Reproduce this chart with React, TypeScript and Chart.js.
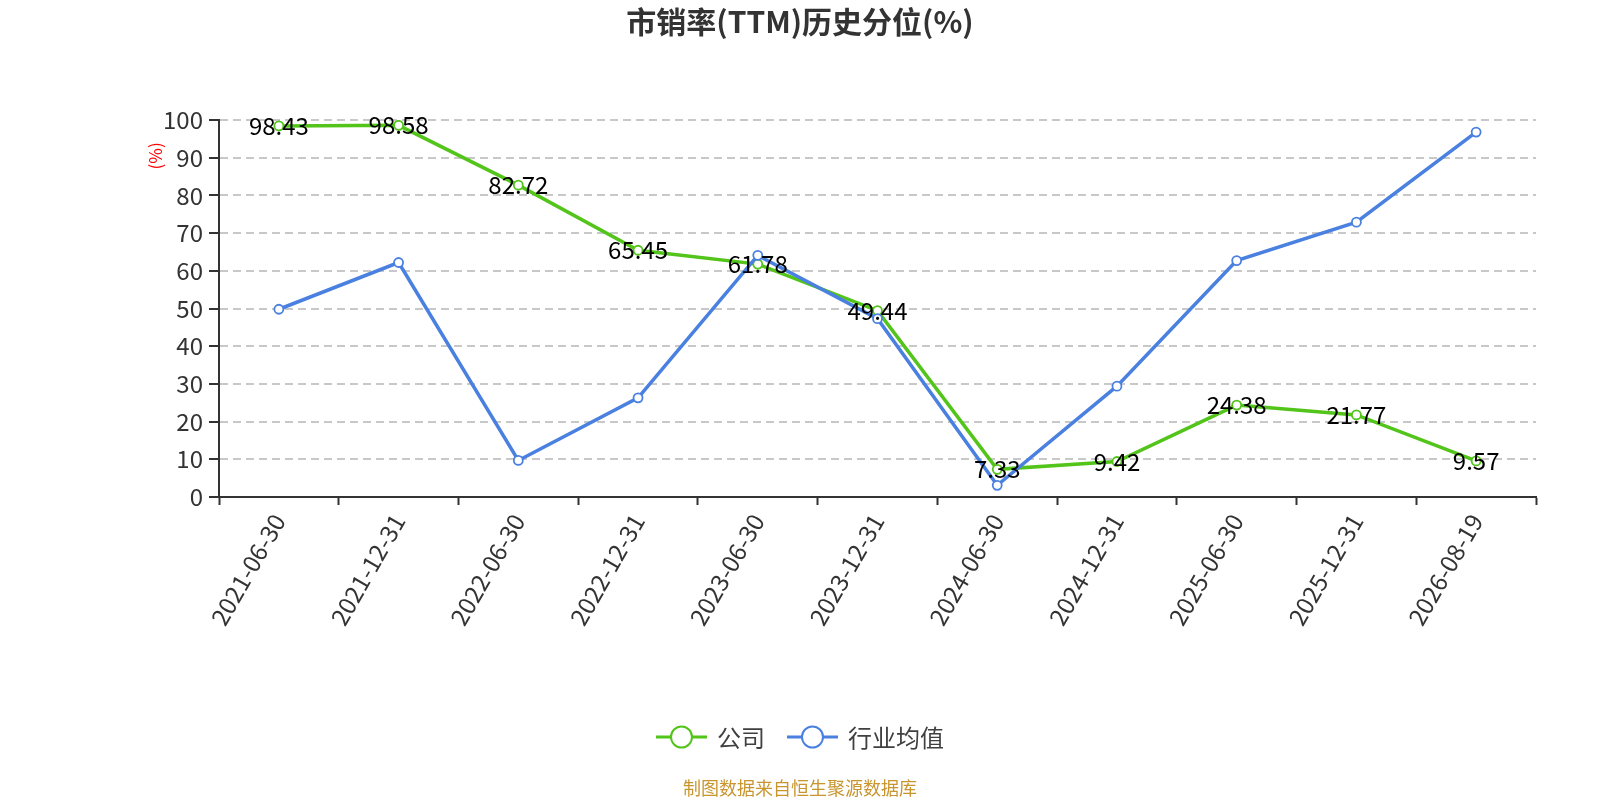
import React, { useEffect, useRef } from "react";
import { Chart, registerables } from "chart.js";

Chart.register(...registerables);

const categories = [
  "2021-06-30", "2021-12-31", "2022-06-30", "2022-12-31", "2023-06-30", "2023-12-31",
  "2024-06-30", "2024-12-31", "2025-06-30", "2025-12-31", "2026-08-19",
];
const companyValues = [98.43, 98.58, 82.72, 65.45, 61.78, 49.44, 7.33, 9.42, 24.38, 21.77, 9.57];
const industryValues = [49.8, 62.2, 9.7, 26.3, 64.1, 47.3, 3.1, 29.4, 62.7, 72.9, 96.8];
const seriesNames = ["公司", "行业均值"];
const titleText = "市销率(TTM)历史分位(%)";
const footerText = "制图数据来自恒生聚源数据库";
const yAxisName = "(%)";

const GREEN = "#52c41a";
const BLUE = "#4a80e0";
const FONT = "'Noto Sans CJK SC', 'Noto Sans', sans-serif";
const CX = 800;

const overlayPlugin = {
  id: "overlay",
  afterDatasetsDraw(chart: any) {
    const ctx = chart.ctx;
    const meta = chart.getDatasetMeta(0);
    ctx.save();
    ctx.font = `24px ${FONT}`;
    ctx.fillStyle = "#000";
    ctx.textAlign = "center";
    ctx.textBaseline = "middle";
    meta.data.forEach((pt: any, i: number) => {
      ctx.fillText(String(companyValues[i]), pt.x, pt.y);
    });
    ctx.restore();
  },
  afterDraw(chart: any) {
    const ctx = chart.ctx;
    const area = chart.chartArea;
    const yScale = chart.scales.y;
    ctx.save();
    // title
    ctx.font = `bold 30px ${FONT}`;
    ctx.fillStyle = "#333";
    ctx.textAlign = "center";
    ctx.textBaseline = "middle";
    ctx.fillText(titleText, CX, 22);
    // y axis name
    ctx.save();
    ctx.translate(area.left - 63, yScale.getPixelForValue(90.5));
    ctx.rotate(-Math.PI / 2);
    ctx.font = `17px ${FONT}`;
    ctx.fillStyle = "red";
    ctx.textAlign = "center";
    ctx.textBaseline = "middle";
    ctx.fillText(yAxisName, 0, 0);
    ctx.restore();
    // legend
    const colors = [GREEN, BLUE];
    ctx.font = `24px ${FONT}`;
    const gap = 22;
    const iconW = 51;
    const textGap = 10;
    const items = seriesNames.map((n) => ({ n, w: iconW + textGap + ctx.measureText(n).width }));
    const total = items.reduce((s, it) => s + it.w, 0) + gap * (items.length - 1);
    let x = CX - total / 2;
    const ly = 737;
    items.forEach((it, i) => {
      ctx.strokeStyle = colors[i];
      ctx.lineWidth = 3;
      ctx.beginPath();
      ctx.moveTo(x, ly);
      ctx.lineTo(x + iconW, ly);
      ctx.stroke();
      ctx.beginPath();
      ctx.arc(x + iconW / 2, ly, 10.5, 0, Math.PI * 2);
      ctx.fillStyle = "#fff";
      ctx.fill();
      ctx.lineWidth = 2;
      ctx.stroke();
      ctx.fillStyle = "#404040";
      ctx.textAlign = "left";
      ctx.textBaseline = "middle";
      ctx.fillText(it.n, x + iconW + textGap, ly + 1);
      x += it.w + gap;
    });
    // footer
    ctx.font = `18px ${FONT}`;
    ctx.fillStyle = "#c8952f";
    ctx.textAlign = "center";
    ctx.textBaseline = "middle";
    ctx.fillText(footerText, CX, 788);
    ctx.restore();
  },
};

export default function App() {
  const ref = useRef<HTMLCanvasElement>(null);
  useEffect(() => {
    document.body.style.margin = "0";
    const Y_W = 70;
    const X_H = 150;
    const chart = new Chart(ref.current!, {
      type: "line",
      data: {
        labels: categories,
        datasets: [
          {
            label: seriesNames[0],
            data: companyValues,
            borderColor: GREEN,
            backgroundColor: "#fff",
            borderWidth: 3.5,
            pointRadius: 4.5,
            pointBorderWidth: 1.8,
            pointBackgroundColor: "#fff",
            pointBorderColor: GREEN,
            tension: 0,
            order: 1,
          },
          {
            label: seriesNames[1],
            data: industryValues,
            borderColor: BLUE,
            backgroundColor: "#fff",
            borderWidth: 3.5,
            pointRadius: 4.5,
            pointBorderWidth: 1.8,
            pointBackgroundColor: "#fff",
            pointBorderColor: BLUE,
            tension: 0,
            order: 0,
          },
        ],
      },
      options: {
        responsive: false,
        animation: false,
        devicePixelRatio: 1,
        layout: {
          padding: { left: 219 - Y_W, right: 1600 - 1536, top: 120, bottom: 800 - 497 - X_H },
        },
        plugins: {
          legend: { display: false },
          title: { display: false },
          tooltip: { enabled: false },
        },
        scales: {
          x: {
            offset: true,
            afterFit: (s: any) => { s.height = X_H; },
            grid: {
              offset: true,
              drawOnChartArea: false,
              drawTicks: true,
              tickLength: 8,
              tickColor: "#333",
              tickWidth: 2,
            },
            border: { display: true, color: "#333", width: 2 },
            ticks: {
              autoSkip: false,
              minRotation: 60,
              maxRotation: 60,
              padding: 4,
              color: "#333",
              font: { family: FONT, size: 24 },
            },
          },
          y: {
            min: 0,
            max: 100,
            afterFit: (s: any) => { s.width = Y_W; },
            grid: {
              color: "#c8c8c8",
              lineWidth: 2,
              tickLength: 10,
              tickColor: "#333",
              tickWidth: 2,
              tickBorderDash: [],
            },
            border: { display: true, color: "#333", width: 2, dash: [8, 5] },
            ticks: {
              stepSize: 10,
              padding: 6,
              color: "#333",
              font: { family: FONT, size: 24 },
            },
          },
        },
      },
      plugins: [overlayPlugin],
    } as any);
    return () => chart.destroy();
  }, []);
  return <canvas ref={ref} width={1600} height={800} style={{ display: "block" }} />;
}
